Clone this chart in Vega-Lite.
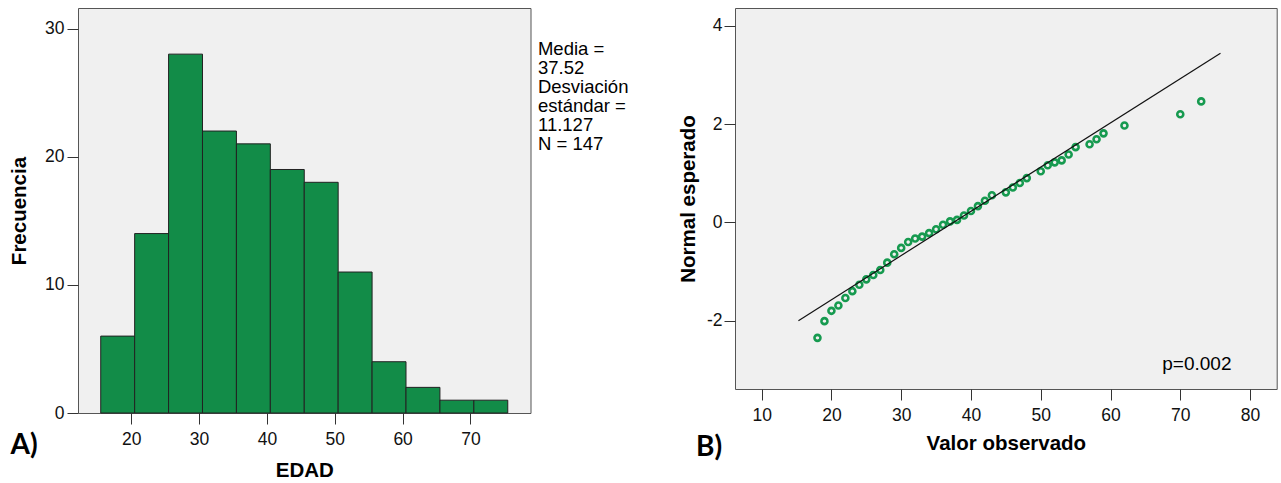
{
  "$schema": "https://vega.github.io/schema/vega-lite/v6.json",
  "padding": {"left": 9, "top": 7, "right": 0, "bottom": 0},
  "background": "white",
  "spacing": 204,
  "bounds": "flush",
  "config": {
    "view": {"fill": "#f0f0f0", "stroke": "#555555", "strokeWidth": 1},
    "axis": {
      "domain": false, "grid": false, "tickColor": "#333333", "tickSize": 11,
      "labelFont": "Liberation Sans", "labelFontSize": 17.5, "labelColor": "#111111",
      "titleFont": "Liberation Sans", "titleFontSize": 20.5, "titleFontWeight": "bold", "titleColor": "#000000",
      "labelFlush": false, "labelOverlap": false
    }
  },
  "hconcat": [
    {
      "width": 452.5,
      "height": 405,
      "layer": [
        {
          "data": {"values": [
            {"desde": 15.5, "hasta": 20.5, "frecuencia": 6},
            {"desde": 20.5, "hasta": 25.5, "frecuencia": 14},
            {"desde": 25.5, "hasta": 30.5, "frecuencia": 28},
            {"desde": 30.5, "hasta": 35.5, "frecuencia": 22},
            {"desde": 35.5, "hasta": 40.5, "frecuencia": 21},
            {"desde": 40.5, "hasta": 45.5, "frecuencia": 19},
            {"desde": 45.5, "hasta": 50.5, "frecuencia": 18},
            {"desde": 50.5, "hasta": 55.5, "frecuencia": 11},
            {"desde": 55.5, "hasta": 60.5, "frecuencia": 4},
            {"desde": 60.5, "hasta": 65.5, "frecuencia": 2},
            {"desde": 65.5, "hasta": 70.5, "frecuencia": 1},
            {"desde": 70.5, "hasta": 75.5, "frecuencia": 1}
          ]},
          "mark": {"type": "rect", "fill": "#128c48", "stroke": "#222222", "strokeWidth": 1},
          "encoding": {
            "x": {"field": "desde", "type": "quantitative",
                  "scale": {"domain": [12.15, 78.85], "nice": false, "zero": false},
                  "axis": {"values": [20, 30, 40, 50, 60, 70], "title": "EDAD", "labelPadding": 6, "titlePadding": 13}},
            "x2": {"field": "hasta"},
            "y": {"field": "frecuencia", "type": "quantitative",
                  "scale": {"domain": [0, 31.6], "nice": false},
                  "axis": {"values": [0, 10, 20, 30], "title": "Frecuencia", "labelPadding": 3, "titlePadding": 15}},
            "y2": {"datum": 0}
          }
        },
        {
          "data": {"values": [{}]},
          "mark": {"type": "text", "text": ["Media =", "37.52", "Desviación", "estándar =", "11.127", "N = 147"],
                   "align": "left", "baseline": "top", "font": "Liberation Sans", "fontSize": 18.5, "lineHeight": 19, "color": "#000000"},
          "encoding": {"x": {"datum": 79.95}, "y": {"datum": 29.1}}
        },
        {
          "data": {"values": [{}]},
          "mark": {"type": "text", "text": "A)", "align": "center", "baseline": "middle", "font": "Lato", "fontWeight": "bold", "fontSize": 28, "color": "#000000"},
          "encoding": {"x": {"datum": 4.2}, "y": {"datum": -2.58}}
        }
      ]
    },
    {
      "width": 541.7,
      "height": 381,
      "layer": [
        {
          "data": {"values": [
            {"valor": 18, "esperado": -2.35},
            {"valor": 19, "esperado": -2.01},
            {"valor": 20, "esperado": -1.80},
            {"valor": 21, "esperado": -1.69},
            {"valor": 22, "esperado": -1.54},
            {"valor": 23, "esperado": -1.40},
            {"valor": 24, "esperado": -1.27},
            {"valor": 25, "esperado": -1.16},
            {"valor": 26, "esperado": -1.07},
            {"valor": 27, "esperado": -0.97},
            {"valor": 28, "esperado": -0.82},
            {"valor": 29, "esperado": -0.65},
            {"valor": 30, "esperado": -0.52},
            {"valor": 31, "esperado": -0.40},
            {"valor": 32, "esperado": -0.33},
            {"valor": 33, "esperado": -0.29},
            {"valor": 34, "esperado": -0.22},
            {"valor": 35, "esperado": -0.14},
            {"valor": 36, "esperado": -0.05},
            {"valor": 37, "esperado": 0.02},
            {"valor": 38, "esperado": 0.05},
            {"valor": 39, "esperado": 0.14},
            {"valor": 40, "esperado": 0.23},
            {"valor": 41, "esperado": 0.33},
            {"valor": 42, "esperado": 0.44},
            {"valor": 43, "esperado": 0.55},
            {"valor": 45, "esperado": 0.61},
            {"valor": 46, "esperado": 0.71},
            {"valor": 47, "esperado": 0.80},
            {"valor": 48, "esperado": 0.90},
            {"valor": 50, "esperado": 1.04},
            {"valor": 51, "esperado": 1.16},
            {"valor": 52, "esperado": 1.22},
            {"valor": 53, "esperado": 1.26},
            {"valor": 54, "esperado": 1.38},
            {"valor": 55, "esperado": 1.53},
            {"valor": 57, "esperado": 1.59},
            {"valor": 58, "esperado": 1.69},
            {"valor": 59, "esperado": 1.81},
            {"valor": 62, "esperado": 1.97},
            {"valor": 70, "esperado": 2.20},
            {"valor": 73, "esperado": 2.46}
          ]},
          "mark": {"type": "point", "shape": "circle", "filled": false, "stroke": "#169a4f", "strokeWidth": 2.6, "size": 36, "opacity": 1},
          "encoding": {
            "x": {"field": "valor", "type": "quantitative",
                  "scale": {"domain": [6.18, 83.82], "nice": false, "zero": false},
                  "axis": {"values": [10, 20, 30, 40, 50, 60, 70, 80], "title": "Valor observado", "labelPadding": 6, "titlePadding": 10}},
            "y": {"field": "esperado", "type": "quantitative",
                  "scale": {"domain": [-3.39, 4.36], "nice": false, "zero": false},
                  "axis": {"values": [-2, 0, 2, 4], "title": "Normal esperado", "labelPadding": 2, "titlePadding": 8, "labelExpr": "'' + datum.value"}}
          }
        },
        {
          "data": {"values": [
            {"valor": 15.27, "esperado": -2.0},
            {"valor": 75.76, "esperado": 3.44}
          ]},
          "mark": {"type": "line", "color": "#111111", "strokeWidth": 1.2},
          "encoding": {
            "x": {"field": "valor", "type": "quantitative"},
            "y": {"field": "esperado", "type": "quantitative"}
          }
        },
        {
          "data": {"values": [{}]},
          "mark": {"type": "text", "text": "p=0.002", "align": "right", "baseline": "middle", "font": "Liberation Sans", "fontSize": 19, "color": "#000000"},
          "encoding": {"x": {"datum": 77.34}, "y": {"datum": -2.88}}
        },
        {
          "data": {"values": [{}]},
          "mark": {"type": "text", "text": "B)", "align": "center", "baseline": "middle", "font": "Lato", "fontWeight": "bold", "fontSize": 28, "color": "#000000"},
          "encoding": {"x": {"datum": 2.48}, "y": {"datum": -4.58}}
        }
      ]
    }
  ]
}
